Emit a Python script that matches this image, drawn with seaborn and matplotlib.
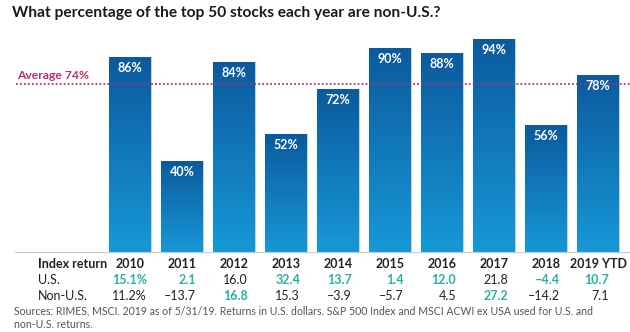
import numpy as np
import pandas as pd
import matplotlib
matplotlib.use("Agg")
import matplotlib.pyplot as plt
import seaborn as sns
from matplotlib.colors import LinearSegmentedColormap

years = ["2010", "2011", "2012", "2013", "2014", "2015", "2016", "2017", "2018", "2019 YTD"]
pct_non_us = [86, 40, 84, 52, 72, 90, 88, 94, 56, 78]
us_returns = [15.1, 2.1, 16.0, 32.4, 13.7, 1.4, 12.0, 21.8, -4.4, 10.7]
non_us_returns = [11.2, -13.7, 16.8, 15.3, -3.9, -5.7, 4.5, 27.2, -14.2, 7.1]
average = 74

sns.set_theme(style="white")
plt.rcParams['font.family'] = ['Lato', 'DejaVu Sans']

W, H = 630, 332
fig = plt.figure(figsize=(W / 100, H / 100), dpi=100)

# pixel geometry
base_px = 252
top_px = 30
px_per_pct = (252 - 39) / 94.0
x0_px, step_px = 130, 52
ax_left_px, ax_right_px = 15, 630

ax = fig.add_axes([ax_left_px / W, (H - base_px) / H,
                   (ax_right_px - ax_left_px) / W, (base_px - top_px) / H])

df = pd.DataFrame({"year": years, "pct": pct_non_us})
sns.barplot(data=df, x="year", y="pct", ax=ax, width=42 / 52,
            color="#0b6aae", saturation=1, edgecolor="none")

ax.set_xlim((ax_left_px - x0_px) / step_px, (ax_right_px - x0_px) / step_px)
ax.set_ylim(0, (base_px - top_px) / px_per_pct)

cmap = LinearSegmentedColormap.from_list("g", ["#0b5a9d", "#1798d6"])
grad = np.linspace(0, 1, 256).reshape(-1, 1)
for p in ax.patches:
    x, y = p.get_x(), p.get_y()
    w, h = p.get_width(), p.get_height()
    im = ax.imshow(grad, cmap=cmap, aspect="auto", origin="upper",
                   extent=[x, x + w, y, y + h], zorder=2)
    im.set_clip_path(p)
    p.set_facecolor("none")
    p.set_edgecolor("#9cc3e3")
    p.set_linewidth(0.5)
    ax.text(x + w / 2, y + h - 11 / px_per_pct, f"{int(round(h))}%",
            ha="center", va="center", color="white", fontsize=9,
            fontweight="bold", zorder=4)

ax.set_xlim((ax_left_px - x0_px) / step_px, (ax_right_px - x0_px) / step_px)
ax.set_ylim(0, (base_px - top_px) / px_per_pct)

ax.axhline(average, xmin=1 / (ax_right_px - ax_left_px), xmax=1, color="#b0306e",
           linestyle=(0, (1, 1.2)), linewidth=1.3, zorder=3)
ax.text((17 - x0_px) / step_px, average + 9 / px_per_pct, f"Average {average}%",
        color="#b0306e", fontsize=8.7, fontweight="bold", ha="left", va="center")

ax.set_xlabel("")
ax.set_ylabel("")
ax.set_xticks([])
ax.set_yticks([])
for s in ["top", "right", "left"]:
    ax.spines[s].set_visible(False)
ax.spines["bottom"].set_color("#c8c8c8")
ax.spines["bottom"].set_linewidth(0.8)

fig.text(12 / W, 1 - 13 / H, "What percentage of the top 50 stocks each year are non-U.S.?",
         fontsize=11.2, color="#1a1a1a", ha="left", va="center", fontweight="bold")

# table
teal = "#27b2a3"
dark = "#222222"
def fy(py):
    return 1 - py / H

fig.text(38 / W, fy(264), "Index return", fontsize=9, fontweight="bold",
         color=dark, ha="left", va="center")
fig.text(38 / W, fy(280), "U.S.", fontsize=9, color=dark, ha="left", va="center")
fig.text(38 / W, fy(296), "Non-U.S.", fontsize=9, color=dark, ha="left", va="center")

def fmt(v, i):
    s = f"{abs(v):.1f}"
    if v < 0:
        s = "\u2013" + s
    if i == 0:
        s += "%"
    return s

for i, yr in enumerate(years):
    cx = x0_px + step_px * i
    if yr.endswith("YTD"):
        fig.text(627 / W, fy(264), yr, fontsize=9, fontweight="bold", color=dark,
                 ha="right", va="center")
    else:
        fig.text(cx / W, fy(264), yr, fontsize=9, fontweight="bold", color=dark,
                 ha="center", va="center")
    rx = cx + (17 if i == 0 else (11 if i == len(years) - 1 else 14))
    u, n = us_returns[i], non_us_returns[i]
    fig.text(rx / W, fy(280), fmt(u, i), fontsize=9, ha="right", va="center",
             color=teal if u > n else dark, fontweight="bold" if u > n else "normal")
    fig.text(rx / W, fy(296), fmt(n, i), fontsize=9, ha="right", va="center",
             color=teal if n > u else dark, fontweight="bold" if n > u else "normal")

fig.text(14 / W, fy(311), "Sources: RIMES, MSCI. 2019 as of 5/31/19. Returns in U.S. dollars. "
         "S&P 500 Index and MSCI ACWI ex USA used for U.S. and",
         fontsize=7.6, color="#555555", ha="left", va="center")
fig.text(14 / W, fy(324), "non-U.S. returns.", fontsize=7.6, color="#555555",
         ha="left", va="center")

fig.savefig("out.png", dpi=100)
